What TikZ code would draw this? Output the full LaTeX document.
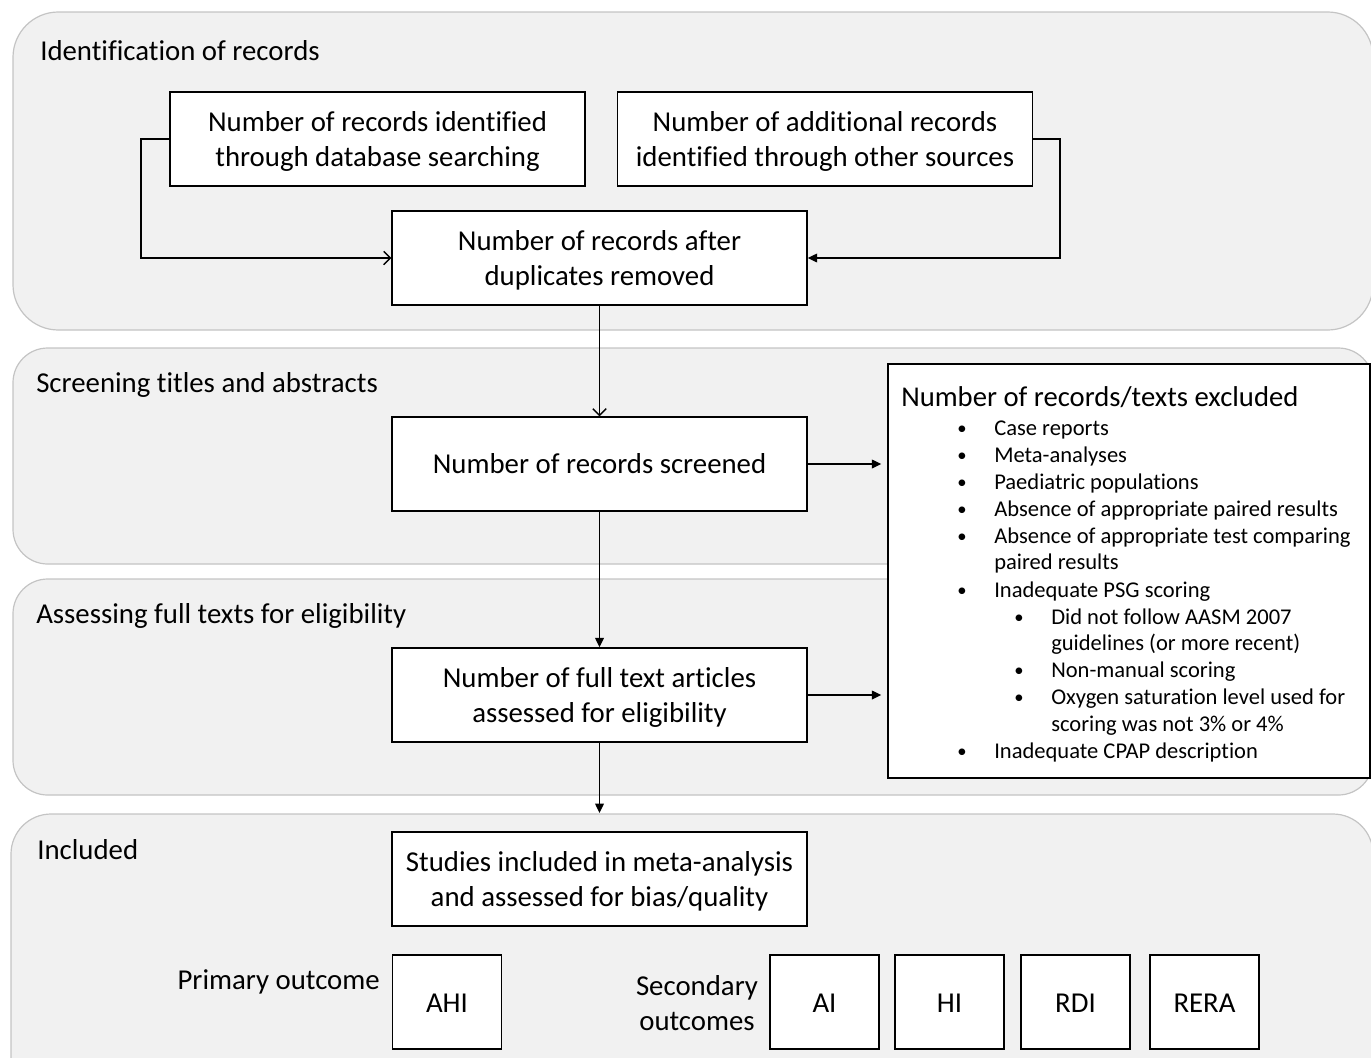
\documentclass[tikz,border=0pt]{standalone}
\usepackage{fontspec}
\setmainfont{Carlito}[Ligatures={NoCommon}]
\usetikzlibrary{arrows.meta}
\definecolor{bandfill}{HTML}{F1F1F1}
\definecolor{bandline}{HTML}{C4C4C4}
\newcommand{\mainsz}{\fontsize{21.6}{26.25}\selectfont}
\newcommand{\headsz}{\fontsize{21.5}{26.25}\selectfont}
\newcommand{\listsz}{\fontsize{16.9}{20.25}\selectfont}
\newcommand{\dn}[2][2.2pt]{\raisebox{-#1}[\height][\depth]{\begin{tabular}{@{}c@{}}#2\end{tabular}}}
\begin{document}
\begin{tikzpicture}[x=0.75pt,y=-0.75pt,
  band/.style={fill=bandfill, draw=bandline, line width=0.9pt},
  box/.style={draw=black, fill=white, line width=1.1pt, inner sep=0pt, align=center, font=\mainsz,
    minimum width=415*0.75pt, minimum height=94*0.75pt},
  sq/.style={box, minimum width=109*0.75pt, minimum height=94*0.75pt},
  conn/.style={line width=1pt, draw=black},
  openarr/.style={-{Straight Barb[length=5pt,width=10pt]}},
  fillarr/.style={-{Triangle[length=7pt,width=6.5pt]}},
  title/.style={font=\mainsz, inner sep=0pt, anchor=base west},
  item/.style={font=\listsz, inner sep=0pt, anchor=base west},
  bul/.style={font=\fontsize{14}{16}\selectfont, inner sep=0pt, anchor=base},
]
\useasboundingbox (0,0) rectangle (1371,1057);
\begin{scope}
\clip (0,0) rectangle (1371,1057);
\draw[band, rounded corners=34pt] (13,12) rectangle (1373,330);
\draw[band, rounded corners=26pt] (13,348) rectangle (1373,564);
\draw[band, rounded corners=26pt] (13,579) rectangle (1373,795);
\draw[band, rounded corners=30pt] (11,814) rectangle (1373,1100);
\end{scope}

% titles
\node[title] (t1) at (40,60) {Identification of records};
\node[title] (t2) at (36,392) {Screening titles and abstracts};
\node[title] (t3) at (36,623) {Assessing full texts for eligibility};
\node[title] (t4) at (37,859) {Included};

% boxes
\node[box] (A) at (377.5,139) {\dn{Number of records identified\\through database searching}};
\node[box] (B) at (825,139) {\dn{Number of additional records\\identified through other sources}};
\node[box] (C) at (599.5,258) {\dn{Number of records after\\duplicates removed}};
\node[box] (D) at (599.5,464) {\dn[2.2pt]{Number of records screened}};
\node[box] (E) at (599.5,695) {\dn{Number of full text articles\\assessed for eligibility}};
\node[box] (F) at (599.5,879) {\dn{Studies included in meta-analysis\\and assessed for bias/quality}};
\node[sq] (AHI) at (447,1002) {\dn[2.6pt]{AHI}};
\node[sq] (AI) at (824.5,1002) {\dn[2.6pt]{AI}};
\node[sq] (HI) at (949.5,1002) {\dn[2.6pt]{HI}};
\node[sq] (RDI) at (1075.5,1002) {\dn[2.6pt]{RDI}};
\node[sq] (RERA) at (1204.5,1002) {\dn[2.6pt]{RERA}};
\node[font=\mainsz, inner sep=0pt, align=center] (sec) at (697,1003) {\dn[2pt]{Secondary\\outcomes}};
\node[font=\mainsz, inner sep=0pt, anchor=base east] (prim) at (380,989) {Primary outcome};

% exclusion box
\node[draw=black, fill=white, line width=1.1pt, inner sep=0pt,
  minimum width=482*0.75pt, minimum height=414*0.75pt] (X) at (1129,571) {};
\node[font=\headsz, inner sep=0pt, anchor=base west] (xh) at (901,406) {Number of records/texts excluded};
\foreach \y/\t [count=\i] in {
  428/Case reports,
  455/Meta-analyses,
  482/Paediatric populations,
  509/Absence of appropriate paired results,
  536/Absence of appropriate test comparing,
  590/Inadequate PSG scoring,
  751/Inadequate CPAP description}{
  \node[bul] (b\i) at (962,\y+6) {\textbullet};
  \node[item] (i\i) at (994,\y+7) {\t};
}
\node[item] (i5b) at (994,569) {paired results};
\foreach \y/\t [count=\i] in {
  617/Did not follow AASM 2007,
  670/Non-manual scoring,
  697/Oxygen saturation level used for}{
  \node[bul] (sb\i) at (1019,\y+6) {\textbullet};
  \node[item] (si\i) at (1051,\y+7) {\t};
}
\node[item] (si1b) at (1051,650) {guidelines (or more recent)};
\node[item] (si3b) at (1051,731) {scoring was not 3\% or 4\%};

% connectors
\coordinate (ja) at (141,258);
\coordinate (jb) at (1060,258);
\coordinate (inc) at (599.5,813);
\draw[conn, openarr] (A.west) -| (ja) -- (C.west);
\draw[conn, fillarr] (B.east) -| (jb) -- (C.east);
\draw[conn, openarr] (C.south) -- (D.north);
\draw[conn, fillarr] (D.south) -- (E.north);
\draw[conn, fillarr, shorten >=4.5pt] (D.east) -- (D.east -| X.west);
\draw[conn, fillarr, shorten >=4.5pt] (E.east) -- (E.east -| X.west);
\draw[conn, fillarr] (E.south) -- (inc);
\end{tikzpicture}
\end{document}
